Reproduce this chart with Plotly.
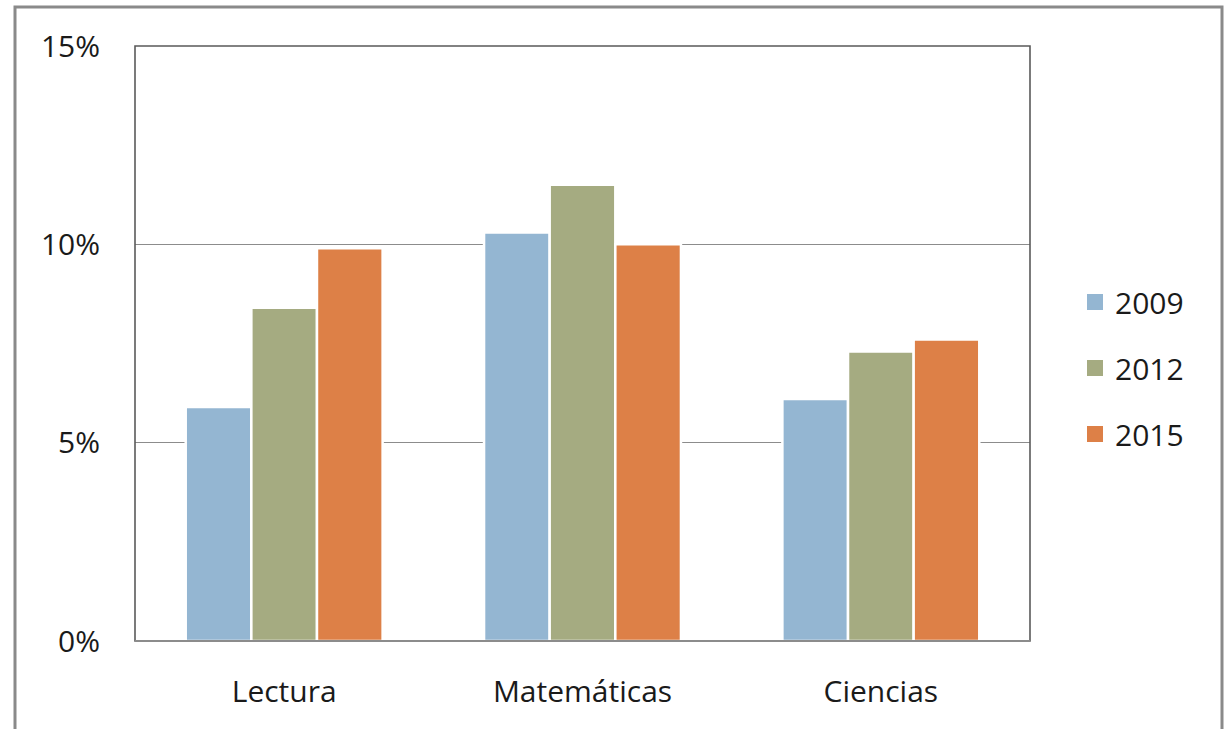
import plotly.graph_objects as go

# PISA-style share by subject and year
categories = ["Lectura", "Matemáticas", "Ciencias"]
years = ["2009", "2012", "2015"]
values_2009 = [5.9, 10.3, 6.1]
values_2012 = [8.4, 11.5, 7.3]
values_2015 = [9.9, 10.0, 7.6]
y_ticks = [0, 5, 10, 15]
y_tick_labels = ["0%", "5%", "10%", "15%"]

series = [values_2009, values_2012, values_2015]
colors = ["#94B6D2", "#A5AB81", "#DD8047"]

FONT = "'Open Sans', sans-serif"
FSIZE = 30

fig = go.Figure()
for year, vals, col in zip(years, series, colors):
    fig.add_trace(go.Bar(
        x=categories,
        y=vals,
        name=year,
        showlegend=False,
        marker=dict(color=col, line=dict(color="white", width=2.5)),
        hoverinfo="skip",
    ))

# square legend swatches
for year, col in zip(years, colors):
    fig.add_trace(go.Scatter(
        x=[None], y=[None],
        mode="markers",
        name=year,
        legendgroup=year,
        marker=dict(symbol="square", size=16, color=col),
        hoverinfo="skip",
    ))

W, H = 1227, 729
L, R, T, B = 135, 197, 46, 88
pw, ph = W - L - R, H - T - B

def px_x(x):
    return (x - L) / pw

def px_y(y):
    return (H - B - y) / ph

fig.update_layout(
    width=W,
    height=H,
    margin=dict(l=L, r=R, t=T, b=B),
    paper_bgcolor="white",
    plot_bgcolor="white",
    barmode="group",
    bargap=0.34,
    bargroupgap=0,
    font=dict(family=FONT, size=FSIZE, color="#1a1a1a"),
    showlegend=True,
    legend=dict(
        x=px_x(1075),
        y=px_y(276),
        xanchor="left",
        yanchor="top",
        traceorder="grouped",
        tracegroupgap=24,
        font=dict(family=FONT, size=FSIZE, color="#1a1a1a"),
        itemwidth=30,
        bgcolor="rgba(0,0,0,0)",
    ),
    xaxis=dict(
        showgrid=False,
        showline=False,
        ticks="",
        ticklabelstandoff=30,
        tickfont=dict(family=FONT, size=FSIZE),
        fixedrange=True,
    ),
    yaxis=dict(
        range=[0, 15],
        tickvals=y_ticks,
        ticktext=y_tick_labels,
        showgrid=True,
        gridcolor="#8c8c8c",
        gridwidth=1.3,
        zeroline=False,
        showline=False,
        ticks="",
        ticklabelstandoff=34,
        tickfont=dict(family=FONT, size=FSIZE),
        fixedrange=True,
    ),
    shapes=[
        # plot area frame
        dict(type="rect", xref="paper", yref="paper", x0=0, x1=1, y0=0, y1=1,
             line=dict(color="#5a5a5a", width=1.6), layer="above"),
        # bottom axis line
        dict(type="line", xref="paper", yref="paper", x0=0, x1=1, y0=0, y1=0,
             line=dict(color="#8c8c8c", width=2), layer="above"),
        # outer chart border
        dict(type="rect", xref="paper", yref="paper",
             x0=px_x(15), x1=px_x(1222), y0=px_y(740), y1=px_y(7),
             line=dict(color="#8a8a8a", width=3), layer="above"),
    ],
)

fig.write_html("out.html")
